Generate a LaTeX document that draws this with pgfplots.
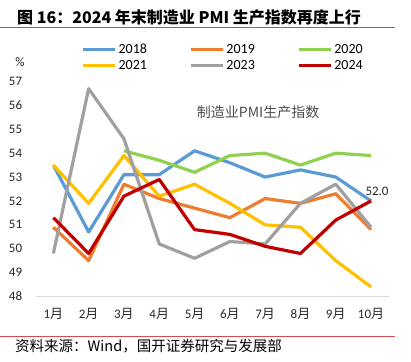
\documentclass[border=0pt]{standalone}
\usepackage{pgfplots}
\pgfplotsset{compat=1.18}
\usepackage{fontspec}
\setmainfont{Carlito}
\newfontfamily\cjk{Noto Sans CJK SC}
\definecolor{c18}{RGB}{91,155,213}
\definecolor{c19}{RGB}{237,125,49}
\definecolor{c20}{RGB}{146,208,80}
\definecolor{c21}{RGB}{255,192,0}
\definecolor{c23}{RGB}{160,160,160}
\definecolor{c24}{RGB}{192,0,0}
\definecolor{redline}{RGB}{214,72,84}
\definecolor{axisgray}{RGB}{217,217,217}
\begin{document}
\begin{tikzpicture}[x=1pt,y=1pt]
\path[use as bounding box] (0,0) rectangle (411,361);
\node[anchor=west, inner sep=0pt, font=\cjk\bfseries\fontsize{16}{19}\selectfont] at (17,344) {图 16：2024 年末制造业 PMI 生产指数再度上行};
\draw[redline, line width=0.8pt] (0,334) -- (395,334);
\draw[redline, line width=0.8pt] (0,25) -- (395,25);
\node[anchor=west, inner sep=0pt, font=\cjk\fontsize{14.5}{16}\selectfont] at (15,15) {资料来源：Wind，国开证券研究与发展部};
\node[font=\fontsize{13}{15}\selectfont, text=black!85] at (20,299) {\%};
\begin{axis}[
 at={(35.7pt,64.5pt)}, anchor=south west, scale only axis, width=353pt, height=215pt,
 xmin=0.5, xmax=10.5, ymin=48, ymax=57,
 xtick={1,...,10},
 xticklabels={1{\cjk 月},2{\cjk 月},3{\cjk 月},4{\cjk 月},5{\cjk 月},6{\cjk 月},7{\cjk 月},8{\cjk 月},9{\cjk 月},10{\cjk 月}},
 ytick={48,...,57},
 axis x line*=bottom, axis y line*=left,
 x axis line style={draw=axisgray, line width=1pt, -},
 y axis line style={draw=none},
 major tick length=0pt,
 tick label style={font=\fontsize{13}{15}\selectfont, text=black!85},
 /pgf/number format/assume math mode=true,
 xticklabel style={yshift=-8pt},
 yticklabel style={xshift=-10pt},
 clip=false,
 legend columns=3,
 legend style={at={(axis description cs:0.128,1.185)}, anchor=north west, draw=none, fill=none, font=\fontsize{14}{16}\selectfont, inner sep=0pt, /tikz/every even column/.append style={column sep=40pt}, row sep=1pt},
 legend image code/.code={\draw[#1, line width=3.5pt] (0pt,0pt) -- (32pt,0pt);},
 every axis plot/.append style={line width=3.2pt, line join=round, no markers},
]
\addplot[c18] coordinates {(1,53.5)(2,50.7)(3,53.1)(4,53.1)(5,54.1)(6,53.6)(7,53.0)(8,53.3)(9,53.0)(10,52.0)};
\addlegendentry{2018}
\addplot[c19] coordinates {(1,50.9)(2,49.5)(3,52.7)(4,52.1)(5,51.7)(6,51.3)(7,52.1)(8,51.9)(9,52.3)(10,50.8)};
\addlegendentry{2019}
\addplot[c20] coordinates {(3,54.1)(4,53.7)(5,53.2)(6,53.9)(7,54.0)(8,53.5)(9,54.0)(10,53.9)};
\addlegendentry{2020}
\addplot[c21] coordinates {(1,53.5)(2,51.9)(3,53.9)(4,52.2)(5,52.7)(6,51.9)(7,51.0)(8,50.9)(9,49.5)(10,48.4)};
\addlegendentry{2021}
\addplot[c23] coordinates {(1,49.8)(2,56.7)(3,54.6)(4,50.2)(5,49.6)(6,50.3)(7,50.2)(8,51.9)(9,52.7)(10,50.9)};
\addlegendentry{2023}
\addplot[c24] coordinates {(1,51.3)(2,49.8)(3,52.2)(4,52.9)(5,50.8)(6,50.6)(7,50.1)(8,49.8)(9,51.2)(10,52.0)};
\addlegendentry{2024}
\node[anchor=south, font=\fontsize{13}{15}\selectfont, text=black!85, inner sep=1pt] at (axis cs:10,52) [xshift=6pt, yshift=4pt] {52.0};
\node[font=\cjk\fontsize{14}{16}\selectfont, text=black!70] at (axis cs:6.8,55.7) {制造业PMI生产指数};
\end{axis}
\end{tikzpicture}
\end{document}
